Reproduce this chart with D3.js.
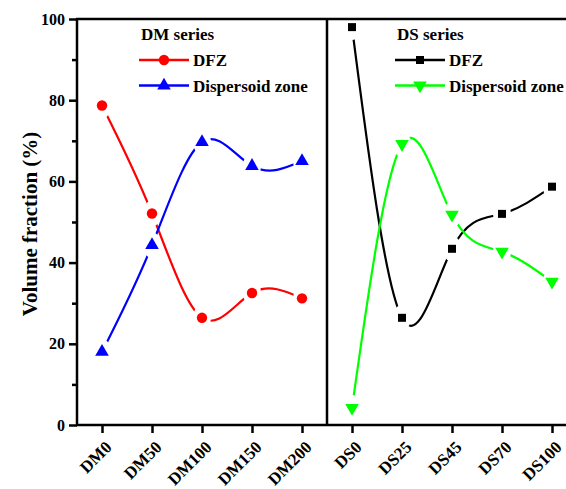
<!DOCTYPE html>
<meta charset="utf-8">
<script src="https://d3js.org/d3.v7.min.js"></script>
<style>
body { margin: 0; background: #fff; }
svg { font-family: "Liberation Serif", "Times New Roman", serif; font-weight: bold; }
.axis path { stroke: none; }
.axis line { stroke: #000; stroke-width: 2.5px; }
.axis text { font-family: "Liberation Serif", "Times New Roman", serif; font-size: 16px; font-weight: bold; fill: #000; }
.frame { stroke: #000; stroke-width: 2.5px; }
.line { fill: none; stroke-width: 2.2px; }
.legend text { font-size: 17px; }
</style>
<body></body>
<script>

var dmLabels = ["DM0", "DM50", "DM100", "DM150", "DM200"];
var dsLabels = ["DS0", "DS25", "DS45", "DS70", "DS100"];

var dmDFZ = [78.7, 52.1, 26.4, 32.5, 31.2];
var dmDispersoid = [18.0, 44.3, 69.7, 63.8, 65.0];
var dsDFZ = [98.0, 26.4, 43.4, 52.0, 58.7];
var dsDispersoid = [4.2, 69.2, 51.8, 42.7, 35.3];

var yTicks = [0, 20, 40, 60, 80, 100];
var yMinor = [10, 30, 50, 70, 90];

var width = 566, height = 489;
var plotLeft = 77, plotRight = 566, plotTop = 19, plotBottom = 425;

var svg = d3.select("body").append("svg")
  .attr("width", width)
  .attr("height", height);

var categories = dmLabels.concat(dsLabels);

var x = d3.scalePoint()
  .domain(categories)
  .range([102, 552]);

var y = d3.scaleLinear()
  .domain([0, 100])
  .range([plotBottom, plotTop]);

var series = [
  {name: "dmDFZ", labels: dmLabels, values: dmDFZ, color: "#ff0000", shape: "circle"},
  {name: "dmDisp", labels: dmLabels, values: dmDispersoid, color: "#0000ff", shape: "up"},
  {name: "dsDFZ", labels: dsLabels, values: dsDFZ, color: "#000000", shape: "square"},
  {name: "dsDisp", labels: dsLabels, values: dsDispersoid, color: "#00ff00", shape: "down"}
];

function symbolFor(shape) {
  if (shape == "circle") return d3.symbol().type(d3.symbolCircle).size(85);
  if (shape == "square") return d3.symbol().type(d3.symbolSquare).size(64);
  return d3.symbol().type(d3.symbolTriangle).size(80);
}

function rotFor(shape) {
  return shape == "down" ? " rotate(180)" : "";
}

var line = d3.line()
  .x(function(d) { return x(d.label); })
  .y(function(d) { return y(d.value); })
  .curve(d3.curveNatural);

series.forEach(function(s) {
  var pts = s.values.map(function(v, i) { return {label: s.labels[i], value: v}; });

  svg.append("path")
    .datum(pts)
    .attr("class", "line")
    .attr("stroke", s.color)
    .attr("d", line);

  // white gap around each marker, cut out of its own line
  svg.selectAll(".gap-" + s.name)
    .data(pts).enter().append("ellipse")
    .attr("class", "gap-" + s.name)
    .attr("cx", function(d) { return x(d.label); })
    .attr("cy", function(d) { return y(d.value); })
    .attr("rx", 9)
    .attr("ry", 13)
    .attr("fill", "#fff");

  svg.selectAll(".pt-" + s.name)
    .data(pts).enter().append("path")
    .attr("class", "pt-" + s.name)
    .attr("fill", s.color)
    .attr("d", symbolFor(s.shape))
    .attr("transform", function(d) {
      return "translate(" + x(d.label) + "," + y(d.value) + ")" + rotFor(s.shape);
    });
});

// frame lines
svg.append("line").attr("class", "frame")
  .attr("x1", plotLeft).attr("x2", plotLeft).attr("y1", plotTop - 1).attr("y2", plotBottom + 1);
svg.append("line").attr("class", "frame")
  .attr("x1", plotLeft - 1).attr("x2", plotRight).attr("y1", plotTop).attr("y2", plotTop);
svg.append("line").attr("class", "frame")
  .attr("x1", plotLeft - 1).attr("x2", plotRight).attr("y1", plotBottom).attr("y2", plotBottom);
// divider between the two series
var mid = (x("DM200") + x("DS0")) / 2;
svg.append("line").attr("class", "frame")
  .attr("x1", mid).attr("x2", mid).attr("y1", plotTop).attr("y2", plotBottom);

// y axis
svg.append("g")
  .attr("class", "axis")
  .attr("transform", "translate(" + plotLeft + ",0)")
  .call(d3.axisLeft(y).tickValues(yTicks).tickSize(8).tickPadding(4));

svg.append("g")
  .attr("class", "axis")
  .attr("transform", "translate(" + plotLeft + ",0)")
  .call(d3.axisLeft(y).tickValues(yMinor).tickSize(5).tickFormat(""));

// x axis
var xAxis = svg.append("g")
  .attr("class", "axis")
  .attr("transform", "translate(0," + plotBottom + ")")
  .call(d3.axisBottom(x).tickSize(8).tickSizeOuter(0));

xAxis.selectAll("text")
  .attr("text-anchor", "end")
  .style("font-size", "17px")
  .attr("dy", "0.35em")
  .attr("transform", "translate(6,19) rotate(-45)")
  .attr("y", 0)
  .attr("x", 0);

// y title
svg.append("text")
  .attr("transform", "translate(37," + ((plotTop + plotBottom) / 2 + 2) + ") rotate(-90)")
  .attr("text-anchor", "middle")
  .attr("font-size", "21px")
  .text("Volume fraction (%)");

// legends
var legends = [
  {title: "DM series", x: 139, items: [series[0], series[1]]},
  {title: "DS series", x: 395, items: [series[2], series[3]]}
];

legends.forEach(function(lg) {
  var g = svg.append("g").attr("class", "legend");
  g.append("text").attr("x", lg.x + 2).attr("y", 40).text(lg.title);
  lg.items.forEach(function(s, i) {
    var ly = 60 + i * 25.5;
    g.append("line")
      .attr("x1", lg.x).attr("x2", lg.x + 50)
      .attr("y1", ly).attr("y2", ly)
      .attr("stroke", s.color).attr("stroke-width", 2.5);
    g.append("path")
      .attr("fill", s.color)
      .attr("d", symbolFor(s.shape))
      .attr("transform", "translate(" + (lg.x + 25) + "," + ly + ")" + rotFor(s.shape));
    g.append("text")
      .attr("x", lg.x + 54)
      .attr("y", ly + 6)
      .text(i == 0 ? "DFZ" : "Dispersoid zone");
  });
});

</script>
